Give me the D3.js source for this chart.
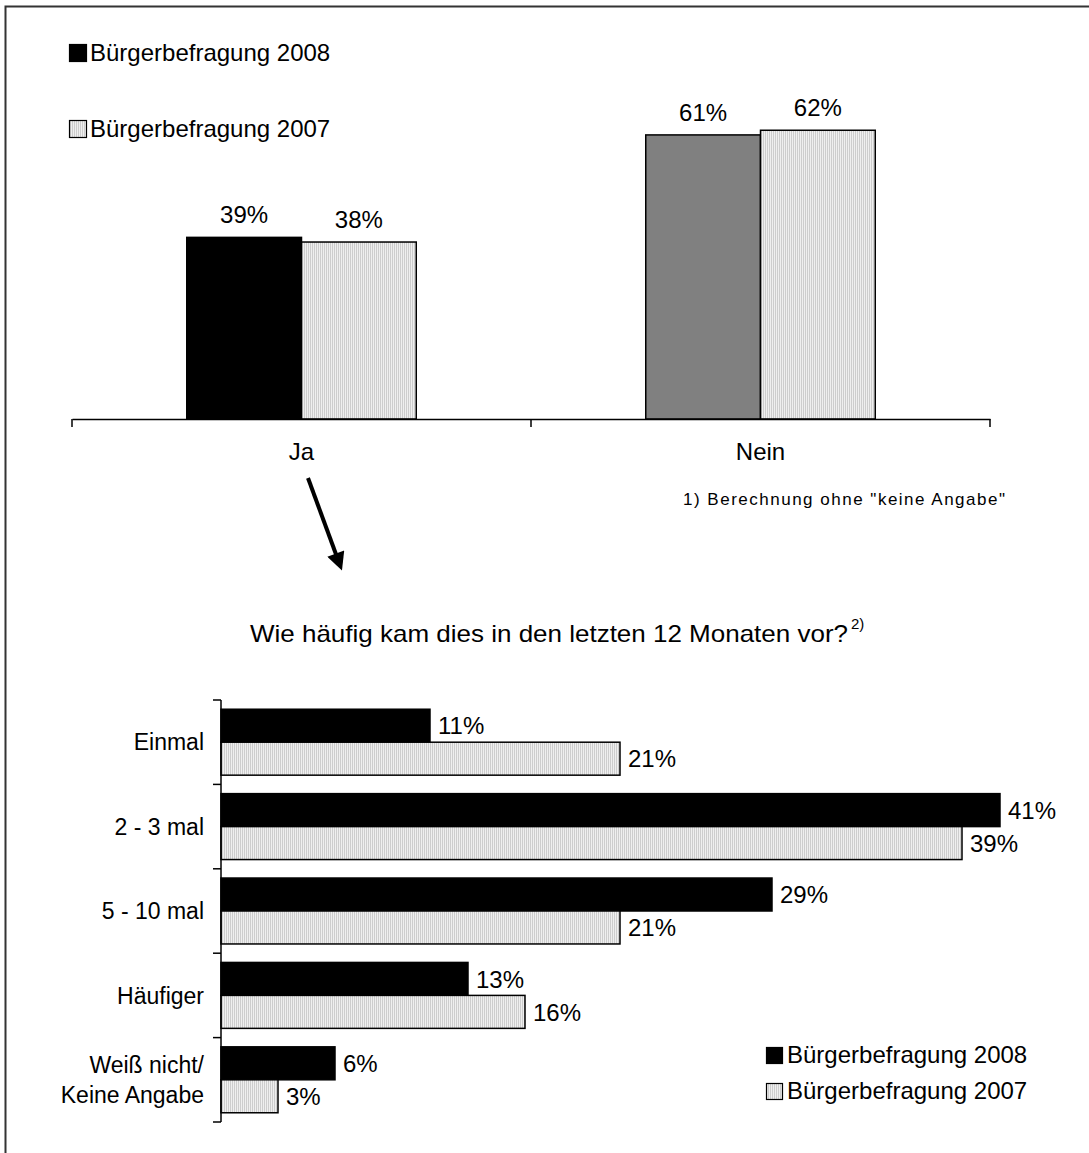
<!DOCTYPE html>
<html>
<head>
<meta charset="utf-8">
<script src="https://cdn.jsdelivr.net/npm/d3@7"></script>
<style>
  body { margin: 0; background: #fff; }
  svg { display: block; font-family: Arial, "Liberation Sans", sans-serif; }
</style>
</head>
<body>
<svg id="chart" width="1089" height="1153"></svg>
<script>
// data
const seriesNames = ["Bürgerbefragung 2008", "Bürgerbefragung 2007"]
const topCategories = ["Ja", "Nein"]
const top2008 = [39, 61]
const top2007 = [38, 62]
const freqCategories = ["Einmal", "2 - 3 mal", "5 - 10 mal", "Häufiger", "Weiß nicht/\nKeine Angabe"]
const freq2008 = [11, 41, 29, 13, 6]
const freq2007 = [21, 39, 21, 16, 3]
const titleText = "Wie häufig kam dies in den letzten 12 Monaten vor?"
const footnote = "1) Berechnung ohne \"keine Angabe\""

let svg = d3.select("#chart")

// fine dotted fill for the 2007 bars
let defs = svg.append("defs")
let pat = defs.append("pattern")
    .attr("id", "dots")
    .attr("width", 2)
    .attr("height", 2)
    .attr("patternUnits", "userSpaceOnUse")
pat.append("rect").attr("width", 2).attr("height", 2).attr("fill", "#efefef")
pat.append("rect").attr("width", 1).attr("height", 2).attr("fill", "#cdcdcd")

// outer frame (only top and left edges are inside the picture)
svg.append("rect")
    .attr("x", 5.5).attr("y", 6.5)
    .attr("width", 1200).attr("height", 1200)
    .attr("fill", "none").attr("stroke", "#333").attr("stroke-width", 2)

// ---------- top chart ----------
let x0 = d3.scaleBand().domain(topCategories).range([72, 990])
let x1 = d3.scaleBand().domain(seriesNames).range([0, x0.bandwidth()]).paddingOuter(1)
let yTop = d3.scaleLinear().domain([0, 70]).range([419, 93])

let topRows = topCategories.map((c, i) => ({ cat: c, vals: [top2008[i], top2007[i]] }))
let topFill = (ci, si) => si == 1 ? "url(#dots)" : (ci == 0 ? "#000" : "#808080")

let gTop = svg.append("g")
topRows.forEach((row, ci) => {
    let g = gTop.append("g").attr("transform", "translate(" + x0(row.cat) + ",0)")
    g.selectAll("rect")
        .data(row.vals)
        .enter()
        .append("rect")
        .attr("x", (d, si) => x1(seriesNames[si]))
        .attr("y", (d) => yTop(d))
        .attr("width", x1.bandwidth())
        .attr("height", (d) => yTop(0) - yTop(d))
        .attr("fill", (d, si) => topFill(ci, si))
        .attr("stroke", "#000")
        .attr("stroke-width", 1.5)
    g.selectAll("text")
        .data(row.vals)
        .enter()
        .append("text")
        .attr("x", (d, si) => x1(seriesNames[si]) + x1.bandwidth() / 2)
        .attr("y", (d) => yTop(d) - 14)
        .attr("text-anchor", "middle")
        .attr("font-size", 24)
        .text((d) => d + "%")
})

// category axis
let xAxis = d3.axisBottom(x0).tickSize(0).tickPadding(24)
let axTop = svg.append("g").attr("transform", "translate(0," + yTop(0) + ")").call(xAxis)
axTop.select(".domain").attr("stroke", "#000").attr("stroke-width", 1.5)
axTop.selectAll(".tick text").attr("font-size", 24).attr("font-family", "Arial, 'Liberation Sans', sans-serif").attr("fill", "#000")
let bounds = topCategories.map((c) => x0(c)).concat([x0.range()[1]])
axTop.selectAll("line.sep")
    .data(bounds)
    .enter()
    .append("line")
    .attr("class", "sep")
    .attr("x1", (d) => d).attr("x2", (d) => d)
    .attr("y1", 0).attr("y2", 8)
    .attr("stroke", "#000").attr("stroke-width", 1.5)

// top legend
let legTop = svg.append("g")
seriesNames.forEach((s, i) => {
    let ly = 44 + i * 76
    legTop.append("rect")
        .attr("x", 69.5).attr("y", ly + 0.5)
        .attr("width", 17).attr("height", 17)
        .attr("fill", i == 0 ? "#000" : "url(#dots)")
        .attr("stroke", "#000").attr("stroke-width", 1.2)
    legTop.append("text")
        .attr("x", 90).attr("y", ly + 17)
        .attr("font-size", 24)
        .text(s)
})

// footnote
svg.append("text")
    .attr("x", 683).attr("y", 505)
    .attr("font-size", 17)
    .attr("textLength", 322)
    .attr("lengthAdjust", "spacing")
    .text(footnote)

// arrow from "Ja" down to the detail chart
defs.append("marker")
    .attr("id", "head")
    .attr("viewBox", "0 0 10 10")
    .attr("refX", 2).attr("refY", 5)
    .attr("markerWidth", 5).attr("markerHeight", 4.5)
    .attr("orient", "auto")
    .append("path")
    .attr("d", "M0,0 L10,5 L0,10 z")
    .attr("fill", "#000")
svg.append("line")
    .attr("x1", 308).attr("y1", 478)
    .attr("x2", 337).attr("y2", 557)
    .attr("stroke", "#000").attr("stroke-width", 4)
    .attr("marker-end", "url(#head)")

// title with footnote mark
let title = svg.append("g")
title.append("text")
    .attr("x", 250).attr("y", 642)
    .attr("font-size", 24)
    .attr("textLength", 598)
    .attr("lengthAdjust", "spacingAndGlyphs")
    .text(titleText)
title.append("text")
    .attr("x", 851).attr("y", 629)
    .attr("font-size", 15)
    .text("2)")

// ---------- bottom chart ----------
let yB = d3.scaleBand().domain(freqCategories).range([700, 1122])
let yB1 = d3.scaleBand().domain(seriesNames).range([0, yB.bandwidth()]).paddingOuter(0.28)
let xB = d3.scaleLinear().domain([0, 41]).range([221, 1000])

let freqRows = freqCategories.map((c, i) => ({ cat: c, vals: [freq2008[i], freq2007[i]] }))
let gB = svg.append("g")
freqRows.forEach((row) => {
    let g = gB.append("g").attr("transform", "translate(0," + yB(row.cat) + ")")
    g.selectAll("rect")
        .data(row.vals)
        .enter()
        .append("rect")
        .attr("x", xB(0))
        .attr("y", (d, si) => yB1(seriesNames[si]))
        .attr("width", (d) => xB(d) - xB(0))
        .attr("height", yB1.bandwidth())
        .attr("fill", (d, si) => si == 0 ? "#000" : "url(#dots)")
        .attr("stroke", "#000")
        .attr("stroke-width", 1.5)
    g.selectAll("text")
        .data(row.vals)
        .enter()
        .append("text")
        .attr("x", (d) => xB(d) + 8)
        .attr("y", (d, si) => yB1(seriesNames[si]) + yB1.bandwidth() / 2)
        .attr("dy", "0.36em")
        .attr("font-size", 24)
        .text((d) => d + "%")
})

// vertical axis with separators
let axB = svg.append("g")
axB.append("line")
    .attr("x1", xB(0)).attr("x2", xB(0))
    .attr("y1", yB.range()[0]).attr("y2", yB.range()[1])
    .attr("stroke", "#000").attr("stroke-width", 1.5)
let bBounds = freqCategories.map((c) => yB(c)).concat([yB.range()[1]])
axB.selectAll("line.sep")
    .data(bBounds)
    .enter()
    .append("line")
    .attr("class", "sep")
    .attr("x1", xB(0) - 8).attr("x2", xB(0))
    .attr("y1", (d) => d).attr("y2", (d) => d)
    .attr("stroke", "#000").attr("stroke-width", 1.5)
freqCategories.forEach((c) => {
    let lines = c.split("\n")
    let cy = yB(c) + yB.bandwidth() / 2
    let t = axB.append("text")
        .attr("x", 204)
        .attr("text-anchor", "end")
        .attr("font-size", 23)
    lines.forEach((l, i) => {
        t.append("tspan")
            .attr("x", 204)
            .attr("y", cy + (i - (lines.length - 1) / 2) * 30)
            .attr("dy", "0.36em")
            .text(l)
    })
})

// bottom legend
let legB = svg.append("g")
seriesNames.forEach((s, i) => {
    let ly = 1047 + i * 36
    legB.append("rect")
        .attr("x", 766.5).attr("y", ly + 0.5)
        .attr("width", 16).attr("height", 16)
        .attr("fill", i == 0 ? "#000" : "url(#dots)")
        .attr("stroke", "#000").attr("stroke-width", 1.2)
    legB.append("text")
        .attr("x", 787).attr("y", ly + 16)
        .attr("font-size", 24)
        .text(s)
})
</script>
</body>
</html>
